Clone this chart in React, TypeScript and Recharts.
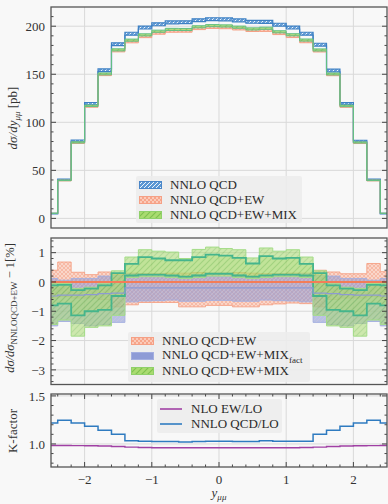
import React from "react";
import { Area, CartesianGrid, ComposedChart, Legend, Line, XAxis, YAxis } from "recharts";

// bin edges in y_mumu (0.2 wide, half bins at the ends)
const EDGES = [-2.5, -2.4, -2.2, -2.0, -1.8, -1.6, -1.4, -1.2, -1.0, -0.8, -0.6, -0.4, -0.2, 0, 0.2, 0.4, 0.6, 0.8, 1.0, 1.2, 1.4, 1.6, 1.8, 2.0, 2.2, 2.4, 2.5];

// top panel, dsigma/dy [pb]
const QCD = [5, 40.3, 80.6, 119.4, 154.2, 181.2, 192.2, 198.6, 202, 204, 204.1, 206.2, 207.3, 207.1, 206.1, 204.6, 204.5, 201.6, 198.6, 192.2, 180.8, 153.9, 119.3, 80.3, 40.2, 5];
const QCD_ERR = [0.3, 0.6, 1.0, 1.2, 1.4, 1.5, 1.5, 1.5, 1.5, 1.5, 1.5, 1.5, 1.5, 1.5, 1.5, 1.5, 1.5, 1.5, 1.5, 1.5, 1.5, 1.4, 1.2, 1.0, 0.6, 0.3];
const QCDEW = [5.2, 39.4, 78.7, 116.6, 149.6, 174.4, 183.8, 189.2, 192.8, 194.8, 194.9, 197.6, 198.8, 198.5, 197.2, 195.6, 195.7, 192.4, 189.3, 183.9, 174.3, 149.5, 116.5, 78.6, 39.4, 5.2];
const QCDEW_ERR = [0.1, 0.4, 0.7, 0.9, 1.0, 1.1, 1.1, 1.1, 1.1, 1.1, 1.1, 1.1, 1.1, 1.1, 1.1, 1.1, 1.1, 1.1, 1.1, 1.1, 1.1, 1.0, 0.9, 0.7, 0.4, 0.1];
const MIX = [5.3, 39.6, 79.1, 117.2, 150.4, 175.4, 185.5, 191, 194.8, 196.7, 196.6, 199.4, 200.6, 200.3, 199, 197.2, 197.9, 194.2, 191.1, 185.6, 175.3, 150.3, 117.1, 79, 39.6, 5.3];
const MIX_ERR = [0.1, 0.3, 0.6, 0.8, 1.0, 1.1, 1.1, 1.1, 1.1, 1.1, 1.1, 1.1, 1.1, 1.1, 1.1, 1.1, 1.1, 1.1, 1.1, 1.1, 1.1, 1.0, 0.8, 0.6, 0.3, 0.1];

// middle panel, ratio to NNLO QCD+EW - 1 [%]
const EW_UP = [0.40, 0.68, 0.33, 0.25, 0.34, 0.25, 0.30, 0.28, 0.28, 0.30, 0.30, 0.32, 0.30, 0.30, 0.32, 0.30, 0.28, 0.28, 0.30, 0.30, 0.40, 0.34, 0.28, 0.28, 0.63, 0.35];
const EW_DN = [-0.55, -0.50, -0.55, -0.55, -0.60, -0.85, -0.78, -0.70, -0.70, -0.70, -0.85, -0.85, -0.80, -0.80, -0.85, -0.85, -0.78, -0.75, -0.72, -0.74, -0.85, -0.60, -0.55, -0.55, -0.50, -0.55];
const FACT_UP = [0.12, 0.06, 0.12, 0.12, 0.20, 0.22, 0.28, 0.22, 0.22, 0.18, 0.15, 0.25, 0.20, 0.18, 0.25, 0.18, 0.15, 0.22, 0.22, 0.28, 0.22, 0.20, 0.12, 0.12, 0.06, 0.12];
const FACT_DN = [-1.50, -1.35, -1.42, -1.50, -1.45, -1.38, -0.68, -0.65, -0.64, -0.62, -0.66, -0.66, -0.63, -0.63, -0.66, -0.66, -0.62, -0.64, -0.65, -0.68, -1.38, -1.45, -1.50, -1.42, -1.35, -1.50];
const FACT_MID = [-0.48, -0.45, -0.45, -0.43, -0.40, -0.38, -0.20, -0.20, -0.20, -0.20, -0.20, -0.20, -0.20, -0.20, -0.20, -0.20, -0.20, -0.20, -0.20, -0.20, -0.38, -0.40, -0.43, -0.45, -0.45, -0.48];
const MIXA_UP = [-0.05, -0.05, -0.22, -0.18, -0.06, 0.38, 0.85, 1.10, 1.05, 1.02, 0.80, 1.11, 1.19, 1.14, 1.10, 0.82, 1.16, 1.05, 1.10, 0.85, 0.38, -0.06, -0.18, -0.22, -0.05, -0.05];
const MIXA_DN = [-1.45, -1.30, -1.85, -1.55, -1.50, -1.14, 0.15, 0.18, 0.18, 0.15, 0.12, 0.15, 0.20, 0.20, 0.15, 0.12, 0.15, 0.18, 0.18, 0.15, -1.14, -1.50, -1.55, -1.85, -1.30, -1.45];
const MIXB_UP = [-0.12, -0.10, -0.28, -0.23, -0.12, 0.30, 0.62, 0.85, 0.80, 0.74, 0.74, 0.85, 0.93, 0.90, 0.82, 0.63, 0.88, 0.80, 0.82, 0.62, 0.30, -0.12, -0.23, -0.28, -0.10, -0.12];
const MIXB_DN = [-0.80, -0.74, -1.14, -1.00, -0.95, -0.48, 0.22, 0.25, 0.25, 0.22, 0.18, 0.22, 0.28, 0.28, 0.22, 0.18, 0.22, 0.25, 0.25, 0.22, -0.48, -0.95, -1.00, -1.14, -0.74, -0.80];

// bottom panel, K-factors
const K_QCD = [1.218, 1.246, 1.218, 1.184, 1.143, 1.101, 1.032, 1.028, 1.026, 1.026, 1.019, 1.026, 1.028, 1.028, 1.026, 1.026, 1.034, 1.028, 1.028, 1.028, 1.101, 1.143, 1.184, 1.218, 1.246, 1.218];
const K_EW = [0.984, 0.984, 0.983, 0.981, 0.978, 0.974, 0.967, 0.963, 0.961, 0.960, 0.960, 0.960, 0.960, 0.960, 0.960, 0.960, 0.960, 0.960, 0.961, 0.963, 0.967, 0.974, 0.978, 0.981, 0.983, 0.984];

// ticks
const X_MAJOR = [-2, -1, 0, 1, 2];
const X_LABELS = ["−2", "−1", "0", "1", "2"];
const TOP_MAJOR = [0, 50, 100, 150, 200];
const MID_MAJOR = [-3, -2, -1, 0, 1];
const MID_LABELS = ["−3", "−2", "−1", "0", "1"];
const BOT_MAJOR = [1.0, 1.5];
const BOT_LABELS = ["1.0", "1.5"];

const steps = (from: number, to: number, step: number) => {
  const out: number[] = [];
  for (let v = from; v <= to + 1e-9; v += step) out.push(Math.round(v * 1000) / 1000);
  return out;
};
const X_TICKS = steps(-2.4, 2.4, 0.2);
const TOP_TICKS = steps(-0, 210, 10);
const MID_TICKS = steps(-3.4, 1.4, 0.2);
const BOT_TICKS = steps(0.8, 1.5, 0.1);

const at = (k: number) => Math.min(k, QCD.length - 1);
const topData = EDGES.map((x, k) => {
  const i = at(k);
  return {
    x,
    qcd: [QCD[i] - QCD_ERR[i], QCD[i] + QCD_ERR[i]],
    ew: [QCDEW[i] - QCDEW_ERR[i], QCDEW[i] + QCDEW_ERR[i]],
    mix: [MIX[i] - MIX_ERR[i], MIX[i] + MIX_ERR[i]],
  };
});
const midData = EDGES.map((x, k) => {
  const i = at(k);
  return {
    x,
    ew: [EW_DN[i], EW_UP[i]],
    fact: [FACT_DN[i], FACT_UP[i]],
    factMid: FACT_MID[i],
    mixA: [MIXA_DN[i], MIXA_UP[i]],
    mixB: [MIXB_DN[i], MIXB_UP[i]],
    ewMid: 0,
  };
});
const botData = EDGES.map((x, k) => ({ x, qcd: K_QCD[at(k)], ew: K_EW[at(k)] }));

const FONT = "'Liberation Serif', 'DejaVu Serif', serif";
const PL = 51;
const PR = 387;
const W = 388;
const TICK = "#333";

const near = (arr: number[], v: number) => arr.findIndex((m) => Math.abs(m - v) < 1e-6);

const yTick = (majors: number[], labels: string[] | null) => (p: any) => {
  const v = p.payload.value;
  const y = p.y;
  const idx = near(majors, v);
  const len = idx >= 0 ? 5 : 2.5;
  return (
    <g>
      <line x1={PL} x2={PL + len} y1={y} y2={y} stroke={TICK} strokeWidth={0.9} />
      <line x1={PR - len} x2={PR} y1={y} y2={y} stroke={TICK} strokeWidth={0.9} />
      {idx >= 0 && (
        <text x={PL - 6} y={y} dy="0.36em" textAnchor="end" fontSize={13} fill="#333" fontFamily={FONT}>
          {labels ? labels[idx] : String(v)}
        </text>
      )}
    </g>
  );
};

const xTick = (top: number, bottom: number, labelY: number | null) => (p: any) => {
  const v = p.payload.value;
  const x = p.x;
  const idx = near(X_MAJOR, v);
  const len = idx >= 0 ? 5 : 2.5;
  return (
    <g>
      <line x1={x} x2={x} y1={bottom} y2={bottom - len} stroke={TICK} strokeWidth={0.9} />
      <line x1={x} x2={x} y1={top} y2={top + len} stroke={TICK} strokeWidth={0.9} />
      {labelY !== null && idx >= 0 && (
        <text x={x} y={labelY} dy="0.36em" textAnchor="middle" fontSize={13} fill="#333" fontFamily={FONT}>
          {X_LABELS[idx]}
        </text>
      )}
    </g>
  );
};

const Patterns = () => (
  <defs>
    <pattern id="pBlue" width="4" height="4" patternUnits="userSpaceOnUse">
      <rect width="4" height="4" fill="#5b97d4" />
      <path d="M-1,1 L1,-1 M0,4 L4,0 M3,5 L5,3" stroke="#ffffff" strokeWidth="0.9" />
    </pattern>
    <pattern id="pOrange" width="4" height="4" patternUnits="userSpaceOnUse">
      <rect width="4" height="4" fill="#f7a58a" />
      <path d="M0,0 L4,4 M0,4 L4,0" stroke="#fde3d8" strokeWidth="0.6" />
    </pattern>
    <pattern id="pGreen" width="6" height="6" patternUnits="userSpaceOnUse">
      <rect width="6" height="6" fill="#a9db70" />
      <path d="M-1,1 L1,-1 M0,6 L6,0 M5,7 L7,5" stroke="#7fc24e" strokeWidth="1.2" />
    </pattern>
    <pattern id="pPurple" width="4" height="4" patternUnits="userSpaceOnUse">
      <rect width="4" height="4" fill="#8e9bd6" />
      <path d="M-1,1 L1,-1 M0,4 L4,0 M3,5 L5,3" stroke="#b5a6c8" strokeWidth="0.6" />
    </pattern>
  </defs>
);

const boxStyle: React.CSSProperties = {
  background: "rgba(236,236,236,0.85)",
  borderRadius: 2,
  fontFamily: FONT,
  fontSize: 13,
  color: "#2a2a2a",
  boxSizing: "border-box",
  padding: "1px 3px",
};

const Row = ({ sw, label }: { sw: React.ReactNode; label: React.ReactNode }) => (
  <div style={{ display: "flex", alignItems: "center", height: 15, whiteSpace: "nowrap" }}>
    <div style={{ width: 31, display: "flex" }}>{sw}</div>
    <span>{label}</span>
  </div>
);
const Box = ({ fill, stroke }: { fill: string; stroke: string }) => (
  <svg width={23} height={8}>
    <rect x={0.5} y={0.5} width={22} height={7} fill={fill} stroke={stroke} strokeWidth={1} />
  </svg>
);
const Stroke = ({ color }: { color: string }) => (
  <svg width={23} height={8}>
    <line x1={0} x2={22} y1={4} y2={4} stroke={color} strokeWidth={1.6} />
  </svg>
);

const LegendTop = () => (
  <div style={{ ...boxStyle, width: 166, height: 47, paddingTop: 1 }}>
    <Row sw={<Box fill="url(#pBlue)" stroke="#4a86c8" />} label="NNLO QCD" />
    <Row sw={<Box fill="url(#pOrange)" stroke="#f5a085" />} label="NNLO QCD+EW" />
    <Row sw={<Box fill="url(#pGreen)" stroke="#8fd06a" />} label="NNLO QCD+EW+MIX" />
  </div>
);
const LegendMid = () => (
  <div style={{ ...boxStyle, width: 182, height: 50, paddingTop: 1 }}>
    <Row sw={<Box fill="url(#pOrange)" stroke="#f5a085" />} label="NNLO QCD+EW" />
    <Row
      sw={<Box fill="#8e9bd6" stroke="#a3aee0" />}
      label={
        <span>
          NNLO QCD+EW+MIX<sub style={{ fontSize: 9 }}>fact</sub>
        </span>
      }
    />
    <Row sw={<Box fill="url(#pGreen)" stroke="#8fd06a" />} label="NNLO QCD+EW+MIX" />
  </div>
);
const LegendBot = () => (
  <div style={{ ...boxStyle, width: 125, height: 34, paddingTop: 2 }}>
    <Row sw={<Stroke color="#a040a4" />} label="NLO EW/LO" />
    <Row sw={<Stroke color="#2f7bc0" />} label="NNLO QCD/LO" />
  </div>
);

const legendPos = (left: number, top: number) => ({ left, top, width: "auto", height: "auto" });

export default function App() {
  return (
    <div style={{ position: "absolute", left: 0, top: 0, width: W, height: 504, background: "#f8f8f8", fontFamily: FONT }}>
      {/* top panel */}
      <div style={{ position: "absolute", left: 0, top: 0 }}>
        <ComposedChart width={W} height={230} data={topData} margin={{ top: 7, right: 1, bottom: 2, left: 0 }}>
          <Patterns />
          <CartesianGrid stroke="#d9d9d9" horizontalValues={TOP_MAJOR} verticalValues={X_MAJOR} />
          <XAxis dataKey="x" type="number" domain={[-2.5, 2.5]} ticks={X_TICKS} interval={0} height={0} axisLine={false} tickLine={false} tick={xTick(7, 228, null)} allowDataOverflow />
          <YAxis type="number" domain={[-10, 220]} ticks={TOP_TICKS} interval={0} width={51} axisLine={false} tickLine={false} tick={yTick(TOP_MAJOR, null)} allowDataOverflow />
          <Area dataKey="qcd" type="stepAfter" fill="url(#pBlue)" fillOpacity={0.9} stroke="#3d80c4" strokeWidth={1.2} isAnimationActive={false} />
          <Area dataKey="ew" type="stepAfter" fill="url(#pOrange)" fillOpacity={0.9} stroke="#f5a085" strokeWidth={1} isAnimationActive={false} />
          <Area dataKey="mix" type="stepAfter" fill="url(#pGreen)" fillOpacity={0.85} stroke="#62bf84" strokeWidth={1} isAnimationActive={false} />
          <Legend content={LegendTop} layout="vertical" verticalAlign="middle" align="center" wrapperStyle={legendPos(136, 176)} />
        </ComposedChart>
      </div>

      {/* ratio panel */}
      <div style={{ position: "absolute", left: 0, top: 230 }}>
        <ComposedChart width={W} height={160} data={midData} margin={{ top: 8, right: 1, bottom: 5.5, left: 0 }}>
          <CartesianGrid stroke="#d9d9d9" horizontalValues={MID_MAJOR} verticalValues={X_MAJOR} />
          <XAxis dataKey="x" type="number" domain={[-2.5, 2.5]} ticks={X_TICKS} interval={0} height={0} axisLine={false} tickLine={false} tick={xTick(8, 154.5, null)} allowDataOverflow />
          <YAxis type="number" domain={[-3.5, 1.5]} ticks={MID_TICKS} interval={0} width={51} axisLine={false} tickLine={false} tick={yTick(MID_MAJOR, MID_LABELS)} allowDataOverflow />
          <Area dataKey="ew" type="stepAfter" fill="url(#pOrange)" fillOpacity={0.75} stroke="#f5a085" strokeWidth={0.9} isAnimationActive={false} />
          <Area dataKey="fact" type="stepAfter" fill="url(#pPurple)" fillOpacity={0.6} stroke="#a3aee0" strokeWidth={0.9} isAnimationActive={false} />
          <Area dataKey="mixA" type="stepAfter" fill="url(#pGreen)" fillOpacity={0.55} stroke="#a4dc88" strokeWidth={1} isAnimationActive={false} />
          <Area dataKey="mixB" type="stepAfter" fill="url(#pGreen)" fillOpacity={0.35} stroke="#45b58c" strokeWidth={1.8} isAnimationActive={false} />
          <Line dataKey="factMid" type="stepAfter" stroke="#8d9ad2" strokeWidth={1.2} dot={false} isAnimationActive={false} />
          <Line dataKey="ewMid" type="stepAfter" stroke="#f37d58" strokeWidth={2} dot={false} isAnimationActive={false} />
          <Legend content={LegendMid} layout="vertical" verticalAlign="middle" align="center" wrapperStyle={legendPos(128, 102)} />
        </ComposedChart>
      </div>

      {/* K-factor panel */}
      <div style={{ position: "absolute", left: 0, top: 390 }}>
        <ComposedChart width={W} height={114} data={botData} margin={{ top: 4, right: 1, bottom: 0, left: 0 }}>
          <CartesianGrid stroke="#d9d9d9" horizontalValues={BOT_MAJOR} verticalValues={X_MAJOR} />
          <XAxis dataKey="x" type="number" domain={[-2.5, 2.5]} ticks={X_TICKS} interval={0} height={37} axisLine={false} tickLine={false} tick={xTick(4, 77, 89)} allowDataOverflow />
          <YAxis type="number" domain={[0.76, 1.52]} ticks={BOT_TICKS} interval={0} width={51} axisLine={false} tickLine={false} tick={yTick(BOT_MAJOR, BOT_LABELS)} allowDataOverflow />
          <Line dataKey="ew" type="stepAfter" stroke="#a040a4" strokeWidth={1.4} dot={false} isAnimationActive={false} />
          <Line dataKey="qcd" type="stepAfter" stroke="#2f7bc0" strokeWidth={1.5} dot={false} isAnimationActive={false} />
          <Legend content={LegendBot} layout="vertical" verticalAlign="middle" align="center" wrapperStyle={legendPos(157, 9)} />
        </ComposedChart>
      </div>

      {/* spines and axis titles */}
      <svg width={W} height={504} style={{ position: "absolute", left: 0, top: 0, pointerEvents: "none" }}>
        <rect x={PL} y={7} width={PR - PL} height={221} fill="none" stroke="#555" strokeWidth={1.3} />
        <rect x={PL} y={238} width={PR - PL} height={146.5} fill="none" stroke="#555" strokeWidth={1.3} />
        <rect x={PL} y={394} width={PR - PL} height={73} fill="none" stroke="#555" strokeWidth={1.3} />
        <text transform="translate(17,118) rotate(-90)" textAnchor="middle" fontSize={13} fill="#333" fontFamily={FONT}>
          <tspan fontStyle="italic">dσ/dy</tspan>
          <tspan fontStyle="italic" fontSize={9} dy={3}>μμ</tspan>
          <tspan dy={-3}> [pb]</tspan>
        </text>
        <text transform="translate(14,308) rotate(-90)" textAnchor="middle" fontSize={12.5} fill="#333" fontFamily={FONT}>
          <tspan fontStyle="italic">dσ/dσ</tspan>
          <tspan fontSize={9} dy={3}>NNLOQCD+EW</tspan>
          <tspan dy={-3}> − 1[%]</tspan>
        </text>
        <text transform="translate(17,431) rotate(-90)" textAnchor="middle" fontSize={13} fill="#333" fontFamily={FONT}>
          K-factor
        </text>
        <text x={219} y={497} textAnchor="middle" fontSize={13} fill="#333" fontFamily={FONT}>
          <tspan fontStyle="italic">y</tspan>
          <tspan fontStyle="italic" fontSize={9} dy={3}>μμ</tspan>
        </text>
      </svg>
    </div>
  );
}
